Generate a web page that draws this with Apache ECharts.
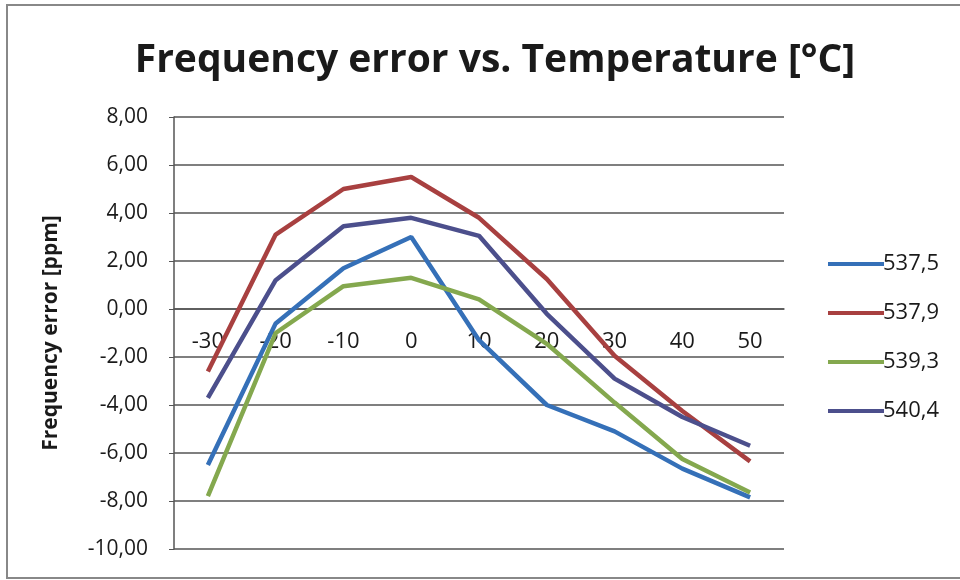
<!DOCTYPE html>
<html>
<head>
<meta charset="utf-8">
<script src="https://cdn.jsdelivr.net/npm/echarts@6/dist/echarts.min.js"></script>
<style>html,body{margin:0;padding:0;background:#fff}#c{width:960px;height:580px}</style>
</head>
<body>
<div id="c"></div>
<script>
const categories = ['-30','-20','-10','0','10','20','30','40','50'];
const seriesNames = ['537,5','537,9','539,3','540,4'];
const s5375 = [-6.5, -0.6, 1.7, 3.0, -1.3, -4.0, -5.1, -6.65, -7.85];
const s5379 = [-2.6, 3.1, 5.0, 5.5, 3.8, 1.25, -1.95, -4.25, -6.35];
const s5393 = [-7.8, -1.0, 0.95, 1.3, 0.4, -1.45, -3.9, -6.25, -7.65];
const s5404 = [-3.7, 1.2, 3.45, 3.8, 3.05, -0.2, -2.9, -4.5, -5.7];
const yTicks = {min: -10, max: 8, interval: 2};
const colors = ['#3570b8', '#a84040', '#84a84e', '#4c4f8c'];

const chart = echarts.init(document.getElementById('c'));
const allData = [s5375, s5379, s5393, s5404];
const gridTop = 117, gridBottom = 31, chartH = 580;
const plotH = chartH - gridTop - gridBottom;
const zeroFromBottom = plotH * (0 - yTicks.min) / (yTicks.max - yTicks.min);
chart.setOption({
  animation: false,
  backgroundColor: '#fff',
  color: colors,
  title: {
    text: 'Frequency error vs. Temperature [°C]',
    left: 490, top: 36, textAlign: 'center',
    textStyle: {fontFamily: 'Open Sans', fontWeight: 'bold', fontSize: 39, color: '#1a1a1a'}
  },
  legend: {
    orient: 'vertical', left: 823, top: 248, itemGap: 27,
    itemWidth: 56, itemHeight: 4, icon: 'rect',
    textStyle: {fontFamily: 'Open Sans', fontSize: 22, color: '#1a1a1a', padding: [0,0,0,-6]},
    data: seriesNames
  },
  grid: {left: 174, right: 176, top: gridTop, bottom: gridBottom, containLabel: false, outerBoundsMode: 'none'},
  xAxis: {
    type: 'category', data: categories, boundaryGap: true, position: 'bottom',
    offset: -zeroFromBottom,
    axisLine: {onZero: false, lineStyle: {color: '#555', width: 1.5}},
    axisTick: {show: false},
    axisLabel: {fontFamily: 'Open Sans', fontSize: 22, color: '#1a1a1a', margin: 22},
    splitLine: {show: false}
  },
  yAxis: {
    type: 'value', min: yTicks.min, max: yTicks.max, interval: yTicks.interval,
    name: 'Frequency error [ppm]', nameLocation: 'middle', nameGap: 112, nameRotate: 90,
    nameTextStyle: {fontFamily: 'Open Sans', fontWeight: 'bold', fontSize: 21, color: '#1a1a1a'},
    axisLine: {show: true, lineStyle: {color: '#555', width: 1.5}},
    axisTick: {show: true, length: 5, inside: false, lineStyle: {color: '#555'}},
    axisLabel: {fontFamily: 'Open Sans', fontSize: 21, color: '#1a1a1a', margin: 26,
      formatter: v => v.toFixed(2).replace('.', ',')},
    splitLine: {show: true, lineStyle: {color: '#555', width: 1.5}}
  },
  graphic: [{
    type: 'polyline', silent: true,
    shape: {points: [[960, 5], [7, 5], [7, 578], [960, 578]]},
    style: {stroke: '#888', lineWidth: 2, fill: null}
  }],
  series: seriesNames.map((n, i) => ({
    name: n, type: 'line', data: allData[i], showSymbol: false, symbol: 'none',
    lineStyle: {width: 4.5, color: colors[i]}, z: 3
  }))
});
</script>
</body>
</html>
